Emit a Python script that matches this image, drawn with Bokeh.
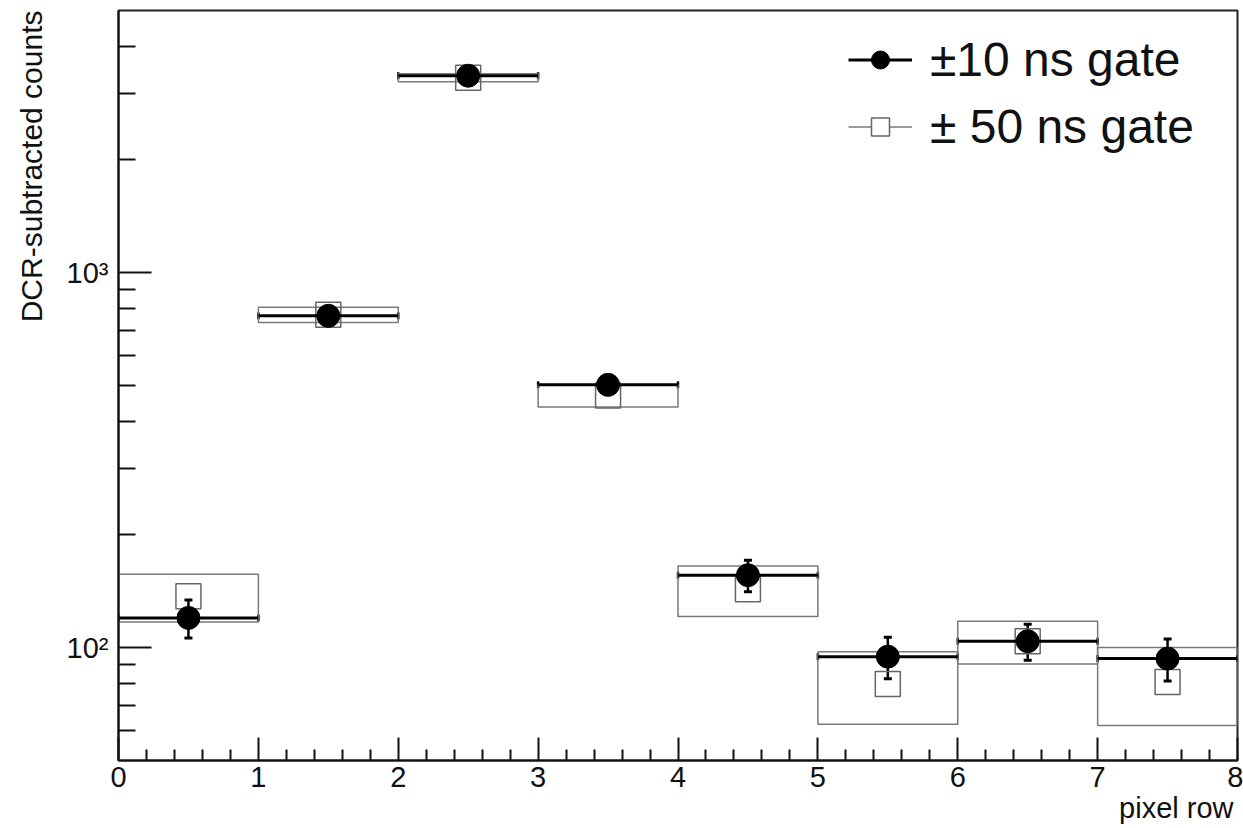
import math

from bokeh.plotting import figure
from bokeh.models import (ColumnDataSource, FixedTicker, Legend, LegendItem,
                          Range1d, TeeHead, Title, Whisker)
from bokeh.embed import file_html
from bokeh.resources import INLINE

# Pixel-row histogram: DCR-subtracted counts per row for two coincidence gates
bin_low = [0, 1, 2, 3, 4, 5, 6, 7]
bin_high = [1, 2, 3, 4, 5, 6, 7, 8]

counts_10ns = [120, 767, 3350, 502, 156, 94.6, 104, 93.5]
err_10ns = [14, 30, 58, 25, 15, 12, 11.5, 12]

counts_50ns = [137, 772, 3310, 470, 143, 80, 104, 81]
err_50ns = [20, 36, 80, 32, 22, 17.5, 13.6, 19]

x_ticks = [0, 1, 2, 3, 4, 5, 6, 7, 8]
x_minor_ticks = [round(i * 0.2, 1) for i in range(41) if i % 5]
y_ticks = [100, 1000]
y_minor_ticks = [60, 70, 80, 90, 200, 300, 400, 500, 600, 700, 800, 900, 2000, 3000, 4000]
y_tick_labels = {100: "10\u00b2", 1000: "10\u00b3"}

legend_labels = ["\u00b110 ns gate", "\u00b1 50 ns gate"]
x_title = "pixel row"
y_title = "DCR-subtracted counts"

FONT = "Liberation Sans"
INK = "#111111"
BOX_GREY = "#7a7a7a"

mid = [(a + b) / 2 for a, b in zip(bin_low, bin_high)]

src10 = ColumnDataSource(dict(
    lo=bin_low, hi=bin_high, mid=mid, y=counts_10ns,
    ylo=[v - e for v, e in zip(counts_10ns, err_10ns)],
    yhi=[v + e for v, e in zip(counts_10ns, err_10ns)],
))
src50 = ColumnDataSource(dict(
    lo=bin_low, hi=bin_high, mid=mid, y=counts_50ns,
    ylo=[v - e for v, e in zip(counts_50ns, err_50ns)],
    yhi=[v + e for v, e in zip(counts_50ns, err_50ns)],
))

p = figure(
    width=1243, height=828,
    x_range=Range1d(0, 8), y_range=Range1d(50, 5000),
    y_axis_type="log",
    output_backend="svg", toolbar_location=None,
    min_border_left=118, min_border_right=6, min_border_top=10, min_border_bottom=68,
)
p.background_fill_color = "white"
p.border_fill_color = "white"
p.xgrid.visible = False
p.ygrid.visible = False
p.outline_line_color = "#222222"
p.outline_line_width = 2

# axes with inward ticks
for ax in (p.xaxis[0], p.yaxis[0]):
    ax.axis_line_color = INK
    ax.axis_line_width = 2
    ax.major_tick_line_color = INK
    ax.minor_tick_line_color = INK
    ax.major_tick_line_width = 2
    ax.minor_tick_line_width = 2
    ax.major_tick_out = 0
    ax.minor_tick_out = 0
    ax.major_label_text_font = FONT
    ax.major_label_text_font_size = "29px"
    ax.major_label_text_color = INK

p.xaxis.ticker = FixedTicker(ticks=x_ticks, minor_ticks=x_minor_ticks)
p.xaxis.major_tick_in = 23
p.xaxis.minor_tick_in = 11
p.xaxis.major_label_standoff = 6

p.yaxis.ticker = FixedTicker(ticks=y_ticks, minor_ticks=y_minor_ticks)
p.yaxis.major_label_overrides = y_tick_labels
p.yaxis.major_tick_in = 33
p.yaxis.minor_tick_in = 17
p.yaxis.major_label_standoff = 10

# axis titles, ROOT style (aligned to the far end of each axis)
p.add_layout(Title(text=y_title, align="right", vertical_align="top",
                   text_font=FONT, text_font_size="30px",
                   text_font_style="normal", text_color=INK, standoff=28), "left")
p.add_layout(Title(text=x_title, align="right", text_font=FONT, text_font_size="29px",
                   text_font_style="normal", text_color=INK, standoff=0, offset=4), "below")

# +-50 ns gate: error boxes and open squares
p.quad(left="lo", right="hi", bottom="ylo", top="yhi", source=src50,
       fill_alpha=0, line_color=BOX_GREY, line_width=1.5)
p.scatter(x="mid", y="y", source=src50, marker="square", size=25,
          fill_alpha=0, line_color="#666666", line_width=1.5)

# +-10 ns gate: bin-width bars, vertical error bars and filled circles
p.add_layout(Whisker(source=src10, dimension="height", base="mid", lower="ylo", upper="yhi",
                     line_color="black", line_width=2.5,
                     lower_head=TeeHead(size=8, line_width=3, line_color="black"),
                     upper_head=TeeHead(size=8, line_width=3, line_color="black")))
p.segment(x0="lo", y0="y", x1="hi", y1="y", source=src10, line_color="black", line_width=3)
p.add_layout(Whisker(source=src10, dimension="width", base="y", lower="lo", upper="hi",
                     line_alpha=0,
                     lower_head=TeeHead(size=7, line_width=2.5, line_color="black"),
                     upper_head=TeeHead(size=7, line_width=2.5, line_color="black")))
p.scatter(x="mid", y="y", source=src10, marker="circle", size=23,
          fill_color="black", line_color="black")

# hidden renderers that only supply the legend swatches
leg_line10 = p.line(x="mid", y="y", source=src10, line_color="black", line_width=3, visible=False)
leg_mark10 = p.scatter(x="mid", y="y", source=src10, marker="circle", size=19,
                       fill_color="black", line_color="black", visible=False)
leg_line50 = p.line(x="mid", y="y", source=src50, line_color=BOX_GREY, line_width=1.5, visible=False)
leg_mark50 = p.scatter(x="mid", y="y", source=src50, marker="square", size=21, fill_color="white",
                       line_color="#666666", line_width=1.5, visible=False)

legend = Legend(
    items=[LegendItem(label=legend_labels[0], renderers=[leg_line10, leg_mark10]),
           LegendItem(label=legend_labels[1], renderers=[leg_line50, leg_mark50])],
    location=(730, 606),
    label_text_font=FONT, label_text_font_size="48px", label_text_color=INK,
    glyph_width=64, glyph_height=45, label_height=45, spacing=12,
    padding=0, margin=0, label_standoff=18,
    background_fill_alpha=0, border_line_alpha=0,
)
p.add_layout(legend)

open("out.html", "w").write(file_html(p, INLINE))
